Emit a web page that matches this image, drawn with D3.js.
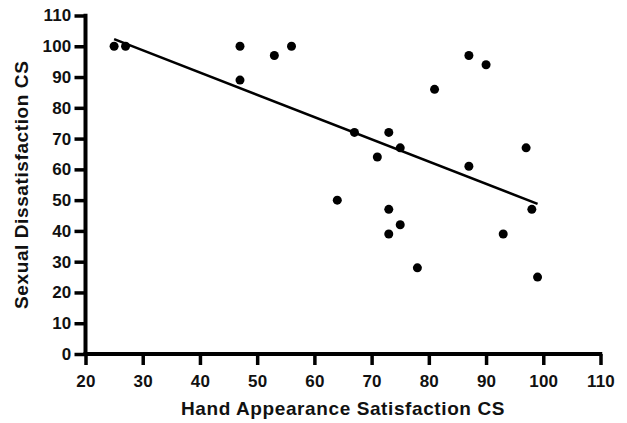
<!DOCTYPE html>
<html>
<head>
<meta charset="utf-8">
<script src="https://cdn.jsdelivr.net/npm/d3@7"></script>
<style>
  html, body { margin: 0; padding: 0; background: #fff; }
  svg { display: block; }
  text { font-family: "Liberation Sans", Arial, Helvetica, sans-serif; font-weight: bold; fill: #111; }
</style>
</head>
<body>
<script>
// Data
const handSatisfaction = [25, 27, 47, 47, 53, 56, 87, 90, 81, 67, 73, 75, 71, 87, 97, 64, 73, 98, 73, 75, 78, 93, 99];
const sexualDissatisfaction = [100, 100, 100, 89, 97, 100, 97, 94, 86, 72, 72, 67, 64, 61, 67, 50, 47, 47, 39, 42, 28, 39, 25];
const fitX = [25, 99];
const fitY = [102.3, 48.8];
const xTicks = [20, 30, 40, 50, 60, 70, 80, 90, 100, 110];
const yTicks = [0, 10, 20, 30, 40, 50, 60, 70, 80, 90, 100, 110];
const xTitle = "Hand Appearance Satisfaction CS";
const yTitle = "Sexual Dissatisfaction CS";

const W = 627, H = 423;
const margin = { left: 85.5, right: 26.5, top: 15.5, bottom: 69 };

const svg = d3.select("body").append("svg").attr("width", W).attr("height", H);

const x = d3.scaleLinear().domain([20, 110]).range([margin.left, W - margin.right]);
const y = d3.scaleLinear().domain([0, 110]).range([H - margin.bottom, margin.top]);

// axes
const xAxis = svg.append("g")
  .attr("transform", `translate(0,${y(0)})`)
  .call(d3.axisBottom(x).tickValues(xTicks).tickSize(11).tickPadding(10).tickSizeOuter(0));
const yAxis = svg.append("g")
  .attr("transform", `translate(${x(20)},0)`)
  .call(d3.axisLeft(y).tickValues(yTicks).tickSize(11).tickPadding(3).tickSizeOuter(0));

[xAxis, yAxis].forEach(g => {
  g.select(".domain").attr("stroke", "#000").attr("stroke-width", 4);
  g.selectAll(".tick line").attr("stroke", "#000").attr("stroke-width", 3.5);
  g.selectAll(".tick text").attr("fill", "#111")
    .style("font-size", "17px")
    .style("font-family", "'Liberation Sans', Arial, sans-serif")
    .style("font-weight", "bold")
    .style("letter-spacing", "0.2px");
});
// extend domains to overlap at the corner
xAxis.select(".domain").attr("d", `M${x(20) - 2},0H${x(110) + 1.75}`);
yAxis.select(".domain").attr("d", `M0,${y(0) + 2}V${y(110) - 1.75}`);

// regression line
svg.append("line")
  .attr("x1", x(fitX[0])).attr("y1", y(fitY[0]))
  .attr("x2", x(fitX[1])).attr("y2", y(fitY[1]))
  .attr("stroke", "#000").attr("stroke-width", 2.5);

// points
svg.append("g").selectAll("circle")
  .data(handSatisfaction.map((v, i) => [v, sexualDissatisfaction[i]]))
  .join("circle")
  .attr("cx", d => x(d[0]))
  .attr("cy", d => y(d[1]))
  .attr("r", 4.5)
  .attr("fill", "#000");

// titles
svg.append("text")
  .attr("x", (x(20) + x(110)) / 2)
  .attr("y", 415)
  .attr("text-anchor", "middle")
  .style("font-size", "19px")
  .style("letter-spacing", "0.6px")
  .text(xTitle);

svg.append("text")
  .attr("transform", `translate(28,${(y(0) + y(110)) / 2}) rotate(-90)`)
  .attr("text-anchor", "middle")
  .style("font-size", "19px")
  .style("letter-spacing", "0.6px")
  .text(yTitle);
</script>
</body>
</html>
